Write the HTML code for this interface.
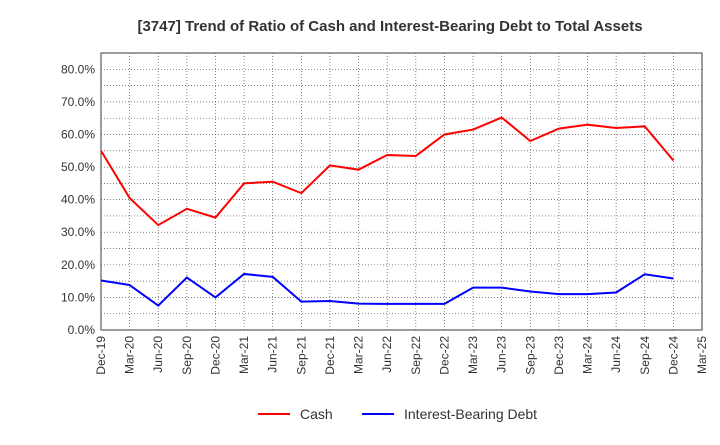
<!DOCTYPE html>
<html><head><meta charset="utf-8"><style>
body{margin:0;background:#fff;font-family:"Liberation Sans",Arial,sans-serif;}
svg text{font-family:"Liberation Sans",Arial,sans-serif;}
</style></head><body>
<svg id="chart" width="720" height="440" xmlns="http://www.w3.org/2000/svg">
<text x="390" y="31" text-anchor="middle" font-size="15" font-weight="bold" fill="#333">[3747]  Trend of Ratio of Cash and Interest-Bearing Debt to Total Assets</text>
<g id="grid"></g><g id="axes"></g><g id="series"></g>
<g>
<line x1="258" y1="414" x2="290" y2="414" stroke="#f00" stroke-width="2"/>
<text x="300" y="419" font-size="14" fill="#333">Cash</text>
<line x1="362" y1="414" x2="394" y2="414" stroke="#00f" stroke-width="2"/>
<text x="404" y="419" font-size="14" fill="#333">Interest-Bearing Debt</text>
</g>
</svg>
<script>
const categories=["Dec-19","Mar-20","Jun-20","Sep-20","Dec-20","Mar-21","Jun-21","Sep-21","Dec-21","Mar-22","Jun-22","Sep-22","Dec-22","Mar-23","Jun-23","Sep-23","Dec-23","Mar-24","Jun-24","Sep-24","Dec-24","Mar-25"];
const cashValues=[55,40.5,32.2,37.2,34.5,45,45.5,42,50.5,49.2,53.7,53.4,60,61.5,65.2,58,61.8,63,62,62.5,52];
const debtValues=[15.2,13.8,7.5,16.1,10,17.2,16.3,8.7,8.9,8.1,8,8,8,13,13,11.8,11,11,11.5,17.1,15.8];
const yTicks=[0,10,20,30,40,50,60,70,80];
const X0=101,X1=702,Y0=330,YT=53,YMAX=85;
const x=i=>X0+i*(X1-X0)/(categories.length-1);
const y=v=>Y0-v*(Y0-YT)/YMAX;
const NS="http://www.w3.org/2000/svg";
function mk(t,a,p){const e=document.createElementNS(NS,t);for(const k in a)e.setAttribute(k,a[k]);p.appendChild(e);return e;}
const grid=document.getElementById('grid'),axes=document.getElementById('axes'),ser=document.getElementById('series');
mk('rect',{x:X0,y:YT,width:X1-X0,height:Y0-YT,fill:'none',stroke:'#333'},grid);
categories.forEach((c,i)=>{
 const l=mk('line',{x1:x(i),x2:x(i),y1:YT,y2:Y0,stroke:'#555','stroke-dasharray':'1,2','stroke-width':0.7},grid);
 
 
 const t=mk('text',{x:0,y:0,'font-size':12,fill:'#333','text-anchor':'end',transform:`translate(${x(i)+4},${Y0+6}) rotate(-90)`},axes);
 t.textContent=c;
 
 
});
for(let v=0;v<=YMAX;v+=5){
 const l=mk('line',{x1:X0,x2:X1,y1:y(v),y2:y(v),stroke:'#555','stroke-dasharray':'1,2','stroke-width':0.7},grid);
 
 
}
yTicks.forEach(v=>{
 const t=mk('text',{x:X0-6,y:y(v)+4,'font-size':12,fill:'#333','text-anchor':'end'},axes);
 t.textContent=v.toFixed(1)+'%';
 
 
});
function line(vals,col,name){
 const p=mk('polyline',{points:vals.map((v,i)=>x(i)+','+y(v)).join(' '),fill:'none',stroke:col,'stroke-width':2},ser);
 
 
}
line(cashValues,'#f00','cash-line');
line(debtValues,'#00f','debt-line');
</script>
</body></html>
